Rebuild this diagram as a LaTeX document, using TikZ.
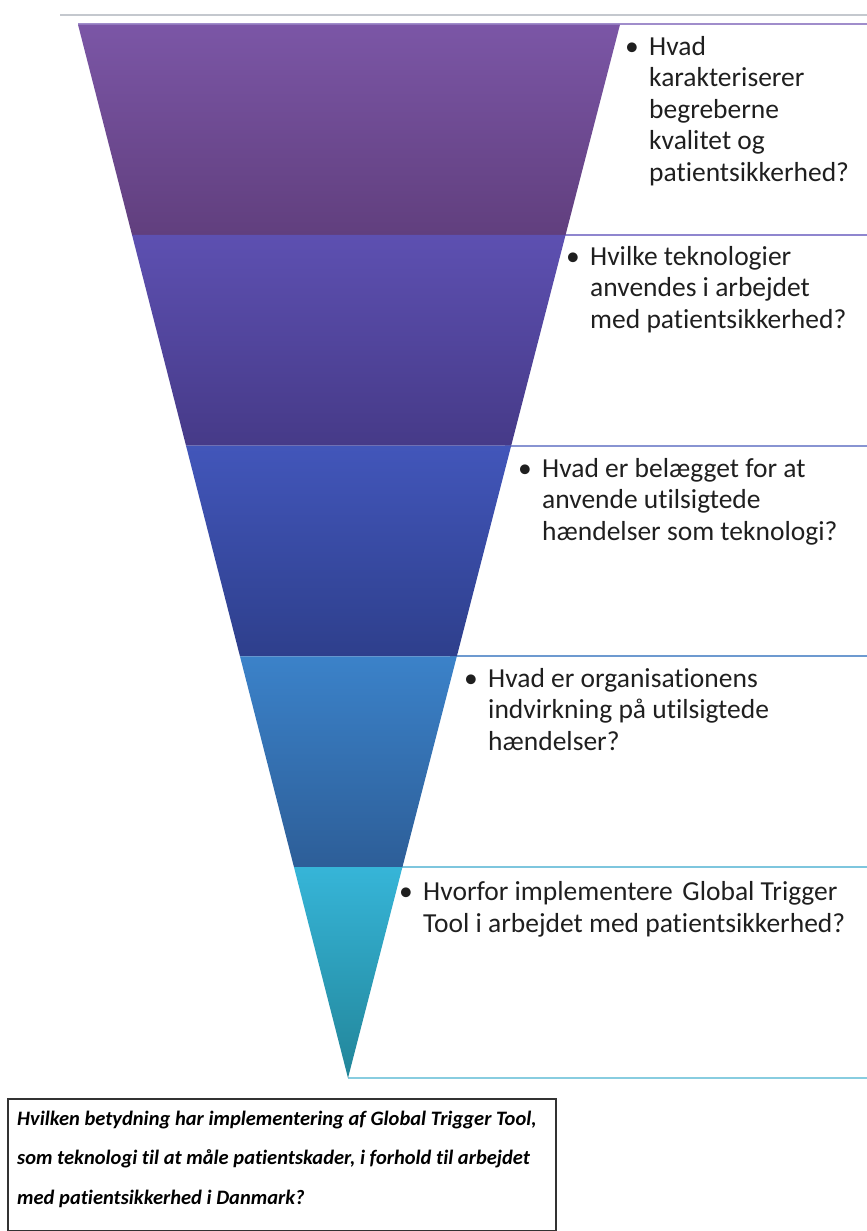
\documentclass[tikz,border=0pt]{standalone}
\usepackage{fontspec}
\setmainfont{Carlito}[Ligatures=NoCommon]
\begin{document}
\begin{tikzpicture}[x=1pt,y=-1pt,
  qtext/.style={anchor=base west, inner sep=0pt, align=left, text=black!88,
    font=\fontsize{27.5}{31.5}\selectfont},
  boxline/.style={line width=2pt},
  maintext/.style={anchor=base west, inner sep=0pt, align=left, text=black,
    font=\fontsize{20.5}{39.5}\selectfont\bfseries\itshape}]
\definecolor{bandAtop}{HTML}{7B56A6}\definecolor{bandAbot}{HTML}{613F7E}
\definecolor{bandBtop}{HTML}{5D50B1}\definecolor{bandBbot}{HTML}{463A88}
\definecolor{bandCtop}{HTML}{4256BA}\definecolor{bandCbot}{HTML}{2E3F8C}
\definecolor{bandDtop}{HTML}{3B82C9}\definecolor{bandDbot}{HTML}{2D5E98}
\definecolor{bandEtop}{HTML}{36B5D8}\definecolor{bandEbot}{HTML}{228599}
\definecolor{lineA}{HTML}{A08DCB}\definecolor{lineB}{HTML}{8F86CF}
\definecolor{lineC}{HTML}{8894D2}\definecolor{lineD}{HTML}{6D9AD0}
\definecolor{lineE}{HTML}{7EC6DE}\definecolor{lineF}{HTML}{88CDE0}
\definecolor{rule}{HTML}{C4C8CE}

\useasboundingbox (0,0) rectangle (867,1231);
\begin{scope}
\clip (0,0) rectangle (867,1231);

% horizontal rule above the funnel
\draw[rule, line width=2pt] (60,15) -- (870,15);

% borders of the text boxes to the right of the funnel
\draw[boxline, lineA] (78,24) -- (870,24);
\draw[boxline, lineB] (560,234.8) -- (870,234.8);
\draw[boxline, lineC] (505,445.6) -- (870,445.6);
\draw[boxline, lineD] (450,656.4) -- (870,656.4);
\draw[boxline, lineE] (396,867.2) -- (870,867.2);
\draw[boxline, lineF] (348,1078) -- (870,1078);

% funnel bands
\shade[top color=bandAtop, bottom color=bandAbot]
  (78,24.6) -- (620,24.6) -- (565.6,234.8) -- (132,234.8) -- cycle;
\shade[top color=bandBtop, bottom color=bandBbot]
  (132,234.8) -- (565.6,234.8) -- (511.2,445.6) -- (186,445.6) -- cycle;
\shade[top color=bandCtop, bottom color=bandCbot]
  (186,445.6) -- (511.2,445.6) -- (456.8,656.4) -- (240,656.4) -- cycle;
\shade[top color=bandDtop, bottom color=bandDbot]
  (240,656.4) -- (456.8,656.4) -- (402.4,867.2) -- (294,867.2) -- cycle;
\shade[top color=bandEtop, bottom color=bandEbot]
  (294,867.2) -- (402.4,867.2) -- (348,1078) -- cycle;

% questions (each node is placed at the baseline of its last line)
\node[qtext] (q1) at (649,181) {\llap{\textbullet\kern10.5pt}Hvad\\karakteriserer\\begreberne\\kvalitet og\\patientsikkerhed?};
\node[qtext] (q2) at (590,328) {\llap{\textbullet\kern10.5pt}Hvilke teknologier\\anvendes i arbejdet\\med patientsikkerhed?};
\node[qtext] (q3) at (542,540) {\llap{\textbullet\kern10.5pt}Hvad er belægget for at\\anvende utilsigtede\\hændelser som teknologi?};
\node[qtext] (q4) at (488,750) {\llap{\textbullet\kern10.5pt}Hvad er organisationens\\indvirkning på utilsigtede\\hændelser?};
\node[qtext] (q5) at (423,932) {\llap{\textbullet\kern10.5pt}Hvorfor implementere\hspace{0.35em}Global Trigger\\Tool i arbejdet med patientsikkerhed?};

% main research question
\draw[black!80, line width=1.5pt] (8,1099) rectangle (556,1230.5);
\node[maintext] (main) at (17,1204) {Hvilken betydning har implementering af Global Trigger Tool,\\som teknologi til at måle patientskader, i forhold til arbejdet\\med patientsikkerhed i Danmark?};
\end{scope}
\end{tikzpicture}
\end{document}
